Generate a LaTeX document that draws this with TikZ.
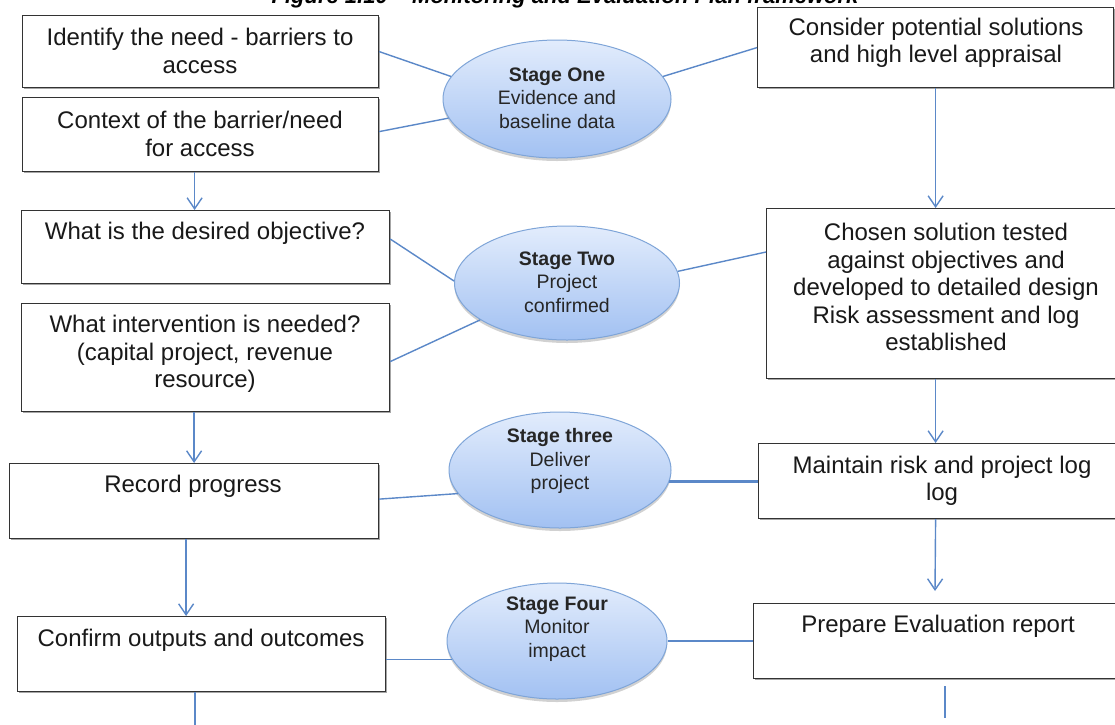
\documentclass[tikz,border=0pt]{standalone}
\usepackage{fontspec}
\setmainfont{Liberation Sans}
\usetikzlibrary{arrows.meta,shadows,calc,shapes.geometric}
\definecolor{conn}{HTML}{5B88C8}
\definecolor{ellB}{HTML}{7FA5D8}
\definecolor{ellT}{HTML}{E2ECFC}
\definecolor{ellBot}{HTML}{A2C1F2}
\begin{document}
\begin{tikzpicture}[x=1pt,y=-1pt,
  box/.style={draw=black!80, line width=1.2pt, fill=white, rectangle, inner sep=0pt, anchor=north west,
    drop shadow={shadow xshift=1.4pt,shadow yshift=-1.4pt,fill=black!35,opacity=1}},
  txt/.style={font=\fontsize{24}{27.5}\selectfont, align=center, inner sep=0pt, text=black!90},
  stage/.style={ellipse, draw=ellB, line width=1pt, top color=ellT, bottom color=ellBot, inner sep=0pt,
    drop shadow={shadow xshift=0pt,shadow yshift=-3pt,fill=black,opacity=0.18}},
  stxt/.style={font=\fontsize{19.5}{23.5}\selectfont, align=center, inner sep=0pt, text=black!85},
  ln/.style={draw=conn, line width=1.4pt},
  thk/.style={draw=conn, line width=2.6pt},
  arr/.style={draw=conn, line width=1.4pt, -{Straight Barb[length=11pt,width=15pt]}},
]
\clip (0,0) rectangle (1115,724);
\fill[white] (0,0) rectangle (1115,724);

% title (cut off by the top edge, as in the reference)
\node[font=\fontsize{22}{24}\selectfont\bfseries\itshape, anchor=base, inner sep=0pt] (title) at (565,3) {Figure 1.10 -- Monitoring and Evaluation Plan framework};

% boxes
\node[box, minimum width=356pt, minimum height=72pt] (b1) at (22,15) {};
\node[box, minimum width=356pt, minimum height=74pt] (b2) at (22,97) {};
\node[box, minimum width=368pt, minimum height=73pt] (b3) at (21,210) {};
\node[box, minimum width=368pt, minimum height=108pt] (b4) at (21,303) {};
\node[box, minimum width=369pt, minimum height=75pt] (b5) at (9,463) {};
\node[box, minimum width=368pt, minimum height=75pt] (b6) at (17,616) {};
\node[box, minimum width=356pt, minimum height=80pt] (b7) at (757,7) {};
\node[box, minimum width=360pt, minimum height=170pt] (b8) at (766,208) {};
\node[box, minimum width=368pt, minimum height=75pt] (b9) at (758,443) {};
\node[box, minimum width=370pt, minimum height=75pt] (b10) at (753,603) {};

% box texts
\node[txt] (t1) at (200,51) {Identify the need - barriers to\\access};
\node[txt] (t2) at (200,134) {Context of the barrier/need\\for access};
\node[txt] (t3) at (205,233) {What is the desired objective?};
\node[txt] (t4) at (205,354) {What intervention is needed?\\(capital project, revenue\\resource)};
\node[txt] (t5) at (193,486) {Record progress};
\node[txt] (t6) at (201,640) {Confirm outputs and outcomes};
\node[txt] (t7) at (936,43) {Consider potential solutions\\and high level appraisal};
\node[txt] (t8) at (946,287) {Chosen solution tested\\against objectives and\\developed to detailed design\\Risk assessment and log\\established};
\node[txt] (t9) at (942,481) {Maintain risk and project log\\log};
\node[txt] (t10) at (938,626) {Prepare Evaluation report};

% ellipses
\node[stage, minimum width=228pt, minimum height=118pt] (s1) at (557,99) {};
\node[stage, minimum width=225pt, minimum height=114pt] (s2) at (567,283) {};
\node[stage, minimum width=222pt, minimum height=116pt] (s3) at (560,470) {};
\node[stage, minimum width=220pt, minimum height=116pt] (s4) at (557,641) {};

\node[stxt] (st1) at (557,98) {\textbf{Stage One}\\Evidence and\\baseline data};
\node[stxt] (st2) at (567,282) {\textbf{Stage Two}\\Project\\confirmed};
\node[stxt] (st3) at (560,461) {\textbf{Stage three}\\Deliver\\project};
\node[stxt] (st4) at (557,629) {\textbf{Stage Four}\\Monitor\\impact};

% connectors to the stages
\draw[ln] (b1.east) -- (s1.168);
\draw[ln] ($(b2.east)+(0,-3)$) -- (s1.190);
\draw[ln] (s1.12) -- (b7.west);
\draw[ln] ($(b3.north east)+(0,29)$) -- (s2.179);
\draw[ln] ($(b4.east)+(0,4)$) -- (s2.203);
\draw[ln] (s2.6) -- ($(b8.north west)+(0,44)$);
\draw[ln] ($(b5.east)+(0,-2)$) -- (s3.193);
\draw[thk] (s3.354) -- (s3.354 -| b9.west);
\draw[ln] (s4.190) -- (s4.190 -| b6.east);
\draw[thk] (s4.east) -- (s4.east -| b10.west);

% vertical arrows
\coordinate (a1) at ($(b2.south)+(-6,0)$);
\coordinate (a2) at ($(b5.south)+(-8,0)$);
\draw[arr] (a1) -- (a1 |- b3.north);
\draw[arr] (b7.south) -- (b7.south |- b8.north);
\draw[arr] (b5.north |- b4.south) -- (b5.north);
\draw[arr] (a2) -- (a2 |- b6.north);
\draw[arr] (b7.south |- b8.south) -- (b7.south |- b9.north);
\coordinate (m1) at (935,591);
\draw[arr] (b7.south |- b9.south) -- (m1);
\coordinate (m2) at (195,730);
\draw[thk] (m2 |- b6.south) -- (m2);
\coordinate (m3) at (945,686);
\coordinate (m4) at (945,718);
\draw[thk] (m3) -- (m4);
\end{tikzpicture}
\end{document}
